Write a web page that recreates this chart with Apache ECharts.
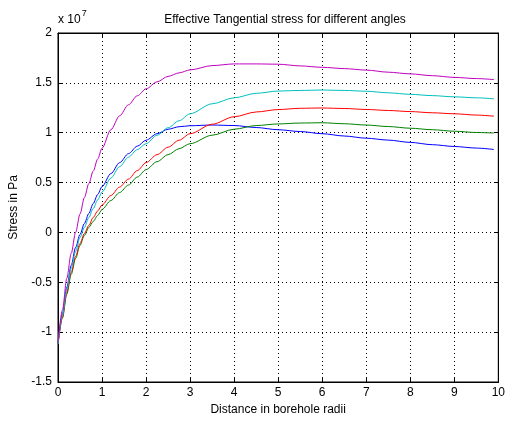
<!DOCTYPE html>
<html><head><meta charset="utf-8">
<script src="https://cdn.jsdelivr.net/npm/echarts@6/dist/echarts.min.js"></script>
<style>html,body{margin:0;padding:0;background:#fff}#c{width:508px;height:421px}</style>
</head><body><div id="c"></div>
<script>
var xs = [0,0.1,0.2,0.3,0.4,0.5,0.6,0.7,0.8,0.9,1.0,1.2,1.4,1.6,1.8,2.0,2.25,2.5,2.75,3.0,3.5,4.0,4.5,5.0,5.5,6.0,6.5,7.0,7.5,8.0,8.5,9.0,9.5,9.9];
var blue    = [-1.12,-0.82,-0.55,-0.33,-0.15,-0.02,0.09,0.19,0.29,0.38,0.46,0.59,0.70,0.79,0.865,0.925,0.99,1.035,1.06,1.07,1.077,1.072,1.052,1.03,1.012,0.99,0.967,0.945,0.926,0.903,0.88,0.862,0.846,0.832];
var green   = [-1.12,-0.86,-0.62,-0.42,-0.26,-0.13,-0.03,0.05,0.11,0.17,0.23,0.32,0.40,0.475,0.555,0.63,0.71,0.78,0.84,0.89,0.975,1.035,1.072,1.088,1.097,1.10,1.09,1.077,1.062,1.045,1.03,1.015,1.002,0.997];
var red     = [-1.12,-0.85,-0.60,-0.40,-0.24,-0.11,-0.01,0.07,0.15,0.215,0.275,0.37,0.455,0.535,0.62,0.70,0.78,0.855,0.925,0.99,1.085,1.16,1.208,1.232,1.245,1.248,1.243,1.233,1.223,1.212,1.2,1.19,1.177,1.166];
var cyan    = [-1.12,-0.83,-0.57,-0.36,-0.19,-0.05,0.05,0.15,0.24,0.325,0.405,0.545,0.66,0.755,0.83,0.89,0.975,1.05,1.12,1.19,1.29,1.35,1.395,1.418,1.424,1.428,1.424,1.416,1.40,1.385,1.372,1.36,1.35,1.34];
var magenta = [-1.10,-0.78,-0.46,-0.21,0.0,0.185,0.35,0.49,0.615,0.735,0.845,1.03,1.17,1.28,1.37,1.44,1.51,1.565,1.60,1.63,1.673,1.69,1.69,1.687,1.67,1.656,1.643,1.628,1.607,1.59,1.572,1.555,1.543,1.533];
var seriesNames = ['blue','green','red','cyan','magenta'];
var seriesData = [blue, green, red, cyan, magenta];
var seriesColors = ['#0000ff','#008000','#ff0000','#00bfbf','#bf00bf'];
var titleText = 'Effective Tangential stress for different angles';
var xTitle = 'Distance in borehole radii';
var yTitle = 'Stress in Pa';

var FONT = 'Liberation Sans';
var chart = echarts.init(document.getElementById('c'));
function pairs(arr){ return xs.map(function(x,i){ return [x, arr[i]]; }); }
var gridLine = {show:true, lineStyle:{color:'#000', type:[1,3], width:1}};
var lbl = {color:'#000', fontFamily:FONT, fontSize:12};
var axLine = {show:true, onZero:false, lineStyle:{color:'#000'}};
chart.setOption({
  animation:false,
  title:{text:titleText, left:280, top:9, textAlign:'center',
    textStyle:{fontFamily:FONT, fontSize:12, fontWeight:'normal', color:'#000'}},
  grid:{left:57, top:33, right:5, bottom:35, show:true, borderColor:'#000', borderWidth:1, backgroundColor:'#fff'},
  xAxis:[{type:'value', min:0, max:10, interval:1, position:'bottom',
    name:xTitle, nameLocation:'middle', nameGap:22, nameTextStyle:lbl,
    axisLine:axLine, axisTick:{inside:true, length:4, lineStyle:{color:'#000'}},
    axisLabel:Object.assign({margin:5}, lbl), splitLine:gridLine},
    {type:'value', min:0, max:10, interval:1, position:'top',
    axisLine:axLine, axisTick:{inside:true, length:4, lineStyle:{color:'#000'}},
    axisLabel:{show:false}, splitLine:{show:false}}],
  yAxis:[{type:'value', min:-1.5, max:2, interval:0.5, position:'left',
    name:yTitle, nameLocation:'middle', nameGap:38, nameTextStyle:lbl,
    axisLine:axLine, axisTick:{inside:true, length:4, lineStyle:{color:'#000'}},
    axisLabel:Object.assign({margin:6}, lbl), splitLine:gridLine},
    {type:'value', min:-1.5, max:2, interval:0.5, position:'right',
    axisLine:axLine, axisTick:{inside:true, length:4, lineStyle:{color:'#000'}},
    axisLabel:{show:false}, splitLine:{show:false}}],
  graphic:[{type:'text', left:58, top:9, style:{
    text:'{a|x 10}{s|7}', fill:'#000',
    rich:{a:{fontFamily:FONT, fontSize:12, fill:'#000', verticalAlign:'bottom'},
          s:{fontFamily:FONT, fontSize:9, fill:'#000', padding:[0,0,8,1]}}}}],
  series: seriesData.map(function(d,i){
    return {name:seriesNames[i], type:'line', data:pairs(d), showSymbol:false, smooth:0.3, smoothMonotone:'x',
      lineStyle:{width:1, color:seriesColors[i]}, itemStyle:{color:seriesColors[i]}, z:2+i};
  })
});
</script></body></html>
